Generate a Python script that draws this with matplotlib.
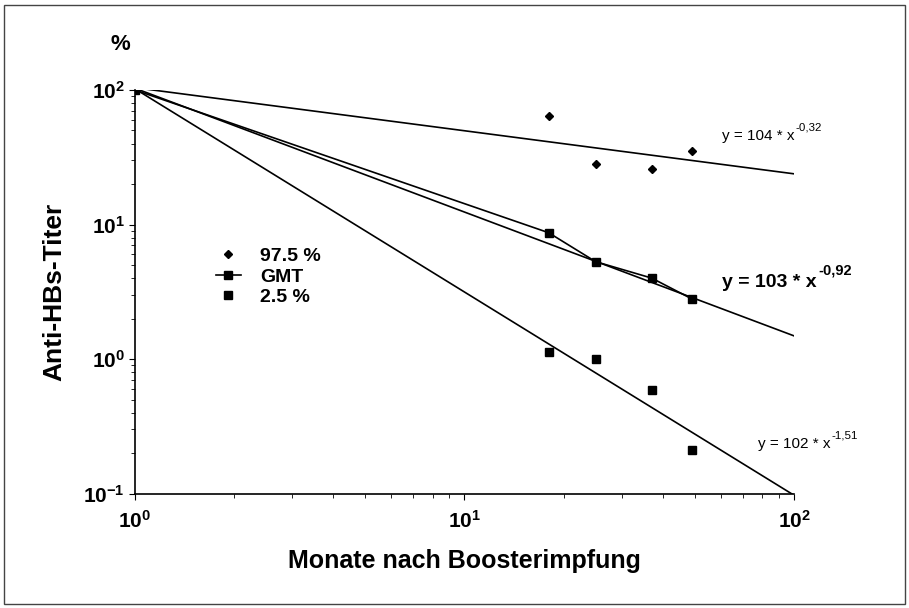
import numpy as np
import matplotlib
matplotlib.use("Agg")
import matplotlib.pyplot as plt
from matplotlib.lines import Line2D
from matplotlib.patches import Rectangle

plt.rcParams['font.family'] = ['Liberation Sans', 'DejaVu Sans']
plt.rcParams['mathtext.fontset'] = 'custom'
plt.rcParams['mathtext.rm'] = 'Liberation Sans'
plt.rcParams['mathtext.bf'] = 'Liberation Sans:bold'

# months after booster
months = [18, 25, 37, 49]
gmt_months = [1, 18, 25, 37, 49]
p975 = [64, 28, 26, 35]
gmt = [100, 8.7, 5.3, 4.0, 2.8]
p25 = [1.13, 1.0, 0.59, 0.21]

# power fits y = a * x^b
fit_a = [104, 103, 102]
fit_b = [-0.32, -0.92, -1.51]
fit_x = np.array([1, 100])

fig = plt.figure(figsize=(9.09, 6.08), dpi=100)
ax = fig.add_axes([0.1485, 0.188, 0.725, 0.664])

for a, b in zip(fit_a, fit_b):
    ax.plot(fit_x, a * fit_x ** b, color='black', lw=1.2)

ax.plot(months, p975, ls='none', marker='D', ms=4.5, color='black')
ax.plot(gmt_months, gmt, marker='s', ms=5.5, color='black', lw=1.2)
ax.plot(months, p25, ls='none', marker='s', ms=5.5, color='black')

ax.set_xscale('log')
ax.set_yscale('log')
ax.set_xlim(1, 100)
ax.set_ylim(0.1, 100)
for s in ['top', 'right']:
    ax.spines[s].set_visible(False)
ax.spines['left'].set_linewidth(1.2)
ax.spines['bottom'].set_linewidth(1.2)

ax.set_xticks([1, 10, 100], labels=[r'$\mathbf{10^{0}}$', r'$\mathbf{10^{1}}$', r'$\mathbf{10^{2}}$'])
ax.set_yticks([0.1, 1, 10, 100], labels=[r'$\mathbf{10^{-1}}$', r'$\mathbf{10^{0}}$', r'$\mathbf{10^{1}}$', r'$\mathbf{10^{2}}$'])
ax.tick_params(axis='both', which='major', length=4, labelsize=15)
ax.tick_params(axis='both', which='minor', length=3)
ax.tick_params(axis='x', pad=8)

ax.set_xlabel('Monate nach Boosterimpfung', fontsize=18, fontweight='bold', labelpad=12)
ax.set_ylabel('Anti-HBs-Titer', fontsize=19, fontweight='bold', labelpad=12)
fig.text(120 / 909, 1 - 45 / 608, '%', fontsize=16, fontweight='bold', ha='center', va='center')


def equation(x, y, base, exp, size, weight):
    # base text plus a plain-hyphen superscript attached to its top-right corner
    t = fig.text(x / 909, 1 - y / 608, base, fontsize=size, fontweight=weight, va='center')
    ax.annotate(exp, xy=(1, 0.75), xycoords=t, xytext=(1, 0), textcoords='offset points',
                fontsize=size * 0.75, fontweight=weight, va='bottom')


equation(722, 136, 'y = 104 * x', '-0,32', 11, 'normal')
equation(722, 282, 'y = 103 * x', '-0,92', 14, 'bold')
equation(758, 444, 'y = 102 * x', '-1,51', 11, 'normal')

handles = [
    Line2D([], [], ls='none', marker='D', ms=4.5, color='black'),
    Line2D([], [], marker='s', ms=5.5, color='black', lw=1.2),
    Line2D([], [], ls='none', marker='s', ms=5.5, color='black'),
]
leg = fig.legend(handles, ['97.5 %', 'GMT', '2.5 %'], loc='upper left',
                 bbox_to_anchor=(198 / 909, 1 - 230 / 608), frameon=False,
                 handlelength=1.3, labelspacing=0.15, handletextpad=1.0,
                 prop={'weight': 'bold', 'size': 14})

fig.patches.append(Rectangle((4 / 909, 4 / 608), 901 / 909, 599 / 608,
                             transform=fig.transFigure, fill=False,
                             edgecolor='#444444', lw=1.0))

fig.savefig('out.png', dpi=100)
